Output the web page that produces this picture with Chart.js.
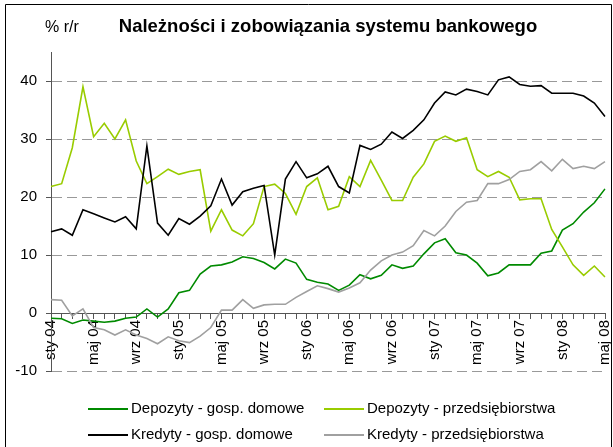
<!DOCTYPE html>
<html>
<head>
<meta charset="utf-8">
<script src="https://cdn.jsdelivr.net/npm/chart.js@4.4.1/dist/chart.umd.min.js"></script>
<style>
  html, body { margin: 0; padding: 0; background: #fff; }
</style>
</head>
<body>
<canvas id="chart" width="613" height="447"></canvas>
<script>
// miesiące sty 04 - maj 08
var miesiace = [
  'sty 04','lut 04','mar 04','kwi 04','maj 04','cze 04','lip 04','sie 04','wrz 04','paź 04','lis 04','gru 04',
  'sty 05','lut 05','mar 05','kwi 05','maj 05','cze 05','lip 05','sie 05','wrz 05','paź 05','lis 05','gru 05',
  'sty 06','lut 06','mar 06','kwi 06','maj 06','cze 06','lip 06','sie 06','wrz 06','paź 06','lis 06','gru 06',
  'sty 07','lut 07','mar 07','kwi 07','maj 07','cze 07','lip 07','sie 07','wrz 07','paź 07','lis 07','gru 07',
  'sty 08','lut 08','mar 08','kwi 08','maj 08'
];

var depozytyGosp = [-0.9, -1.0, -1.8, -1.2, -1.4, -1.6, -1.4, -0.9, -0.7, 0.7, -0.7, 0.7,
  3.5, 3.9, 6.7, 8.1, 8.3, 8.8, 9.7, 9.4, 8.7, 7.6, 9.3, 8.6,
  5.8, 5.3, 5.0, 3.9, 4.8, 6.6, 5.9, 6.5, 8.3, 7.7, 8.1, 10.2,
  12.1, 12.8, 10.4, 10.0, 8.6, 6.4, 6.9, 8.3, 8.3, 8.3, 10.3, 10.7,
  14.3, 15.4, 17.4, 19.0, 21.4];

var depozytyPrzeds = [21.8, 22.3, 28.5, 39.0, 30.4, 32.7, 30.0, 33.3, 26.2, 22.3, 23.5, 24.8,
  23.9, 24.4, 24.7, 14.1, 17.8, 14.3, 13.3, 15.4, 21.8, 22.2, 20.6, 17.0,
  21.8, 23.3, 17.8, 18.4, 23.5, 21.8, 26.3, 22.9, 19.4, 19.4, 23.4, 25.7,
  29.6, 30.5, 29.6, 30.2, 24.7, 23.5, 24.4, 23.4, 19.5, 19.7, 19.7, 14.4,
  11.4, 8.3, 6.5, 8.1, 6.2];

var kredytyGosp = [14.0, 14.5, 13.4, 17.8, 17.1, 16.4, 15.7, 16.6, 14.5, 28.8, 15.5, 13.4,
  16.3, 15.3, 16.7, 18.5, 23.1, 18.6, 20.9, 21.5, 22.0, 10.0, 23.1, 26.1,
  23.3, 24.0, 25.3, 21.8, 20.7, 28.9, 28.2, 29.1, 31.2, 30.1, 31.5, 33.3,
  36.2, 38.1, 37.6, 38.6, 38.2, 37.6, 40.2, 40.7, 39.4, 39.1, 39.2, 37.9,
  37.9, 37.9, 37.4, 36.2, 33.9];

var kredytyPrzeds = [2.3, 2.2, -0.5, 0.7, -2.5, -2.9, -3.8, -2.9, -3.8, -4.4, -5.3, -4.1,
  -4.8, -5.1, -4.0, -2.5, 0.5, 0.5, 2.3, 0.8, 1.4, 1.5, 1.5, 2.7,
  3.7, 4.7, 4.2, 3.6, 4.3, 5.2, 7.4, 9.0, 10.0, 10.5, 11.6, 14.2,
  13.3, 15.0, 17.5, 19.1, 19.4, 22.3, 22.3, 23.0, 24.4, 24.7, 26.1, 24.5,
  26.5, 24.9, 25.3, 24.9, 26.1];

var serie = ['Depozyty - gosp. domowe', 'Depozyty - przedsiębiorstwa', 'Kredyty - gosp. domowe', 'Kredyty - przedsiębiorstwa'];
var kolory = ['#008a00', '#99cc00', '#000000', '#a0a0a0'];

var font = '"Liberation Sans", Arial, sans-serif';
Chart.defaults.font.family = font;
Chart.defaults.color = '#000';

// ramka, jednostka i legenda
var dodatki = {
  id: 'dodatki',
  afterDraw: function (chart) {
    var ctx = chart.ctx;
    ctx.save();
    ctx.strokeStyle = '#000';
    ctx.lineWidth = 1;
    ctx.beginPath();
    ctx.moveTo(5.5, 460);
    ctx.lineTo(5.5, 4.5);
    ctx.lineTo(611.5, 4.5);
    ctx.lineTo(611.5, 460);
    ctx.stroke();

    ctx.fillStyle = '#000';
    ctx.font = '16px ' + font;
    ctx.textBaseline = 'middle';
    ctx.textAlign = 'left';
    ctx.fillText('% r/r', 45, 28);

    ctx.font = '15px ' + font;
    var poz = [[88, 409], [324, 409], [88, 435], [324, 435]];
    for (var i = 0; i < serie.length; i++) {
      var x = poz[i][0], y = poz[i][1];
      ctx.strokeStyle = kolory[i];
      ctx.lineWidth = 2;
      ctx.beginPath();
      ctx.moveTo(x, y);
      ctx.lineTo(x + 40, y);
      ctx.stroke();
      ctx.fillText(serie[i], x + 43, y);
    }
    ctx.restore();
  }
};

new Chart(document.getElementById('chart').getContext('2d'), {
  type: 'line',
  data: {
    labels: miesiace,
    datasets: [
      { label: serie[0], data: depozytyGosp, borderColor: kolory[0], order: 4 },
      { label: serie[1], data: depozytyPrzeds, borderColor: kolory[1], order: 3 },
      { label: serie[2], data: kredytyGosp, borderColor: kolory[2], order: 2 },
      { label: serie[3], data: kredytyPrzeds, borderColor: kolory[3], order: 1 }
    ]
  },
  options: {
    responsive: false,
    animation: false,
    layout: { padding: { left: 6, right: 8, top: 0, bottom: 76 } },
    elements: {
      line: { borderWidth: 1.6, tension: 0, fill: false },
      point: { radius: 0, hoverRadius: 0 }
    },
    plugins: {
      legend: { display: false },
      tooltip: { enabled: false },
      title: {
        display: true,
        fullSize: false,
        text: 'Należności i zobowiązania systemu bankowego',
        color: '#000',
        font: { size: 18.5, weight: 'bold' },
        padding: { top: 16, bottom: 13.8 }
      }
    },
    scales: {
      x: {
        type: 'category',
        position: { y: 0 },
        offset: false,
        afterFit: function (s) { s.paddingLeft = 0; s.paddingRight = 0; },
        grid: { drawOnChartArea: false, drawTicks: true, tickLength: 5, tickColor: '#555' },
        border: { color: '#555', width: 1 },
        ticks: {
          autoSkip: false,
          minRotation: 90,
          maxRotation: 90,
          padding: 2,
          font: { size: 15 },
          callback: function (v, i) { return i % 4 === 0 ? miesiace[i] : ''; }
        }
      },
      y: {
        min: -10,
        max: 45,
        bounds: 'data',
        afterFit: function (s) { s.width = 45; },
        afterBuildTicks: function (s) { s.ticks = s.ticks.filter(function (t) { return t.value <= 40; }); },
        grid: {
          color: function (c) { return c.tick && c.tick.value === 0 ? 'rgba(0,0,0,0)' : '#999'; },
          tickColor: '#555',
          tickLength: 5,
          tickBorderDash: []
        },
        border: { color: '#555', width: 1, dash: [10, 5] },
        ticks: { stepSize: 10, padding: 9, font: { size: 15 } }
      }
    }
  },
  plugins: [dodatki]
});
</script>
</body>
</html>
